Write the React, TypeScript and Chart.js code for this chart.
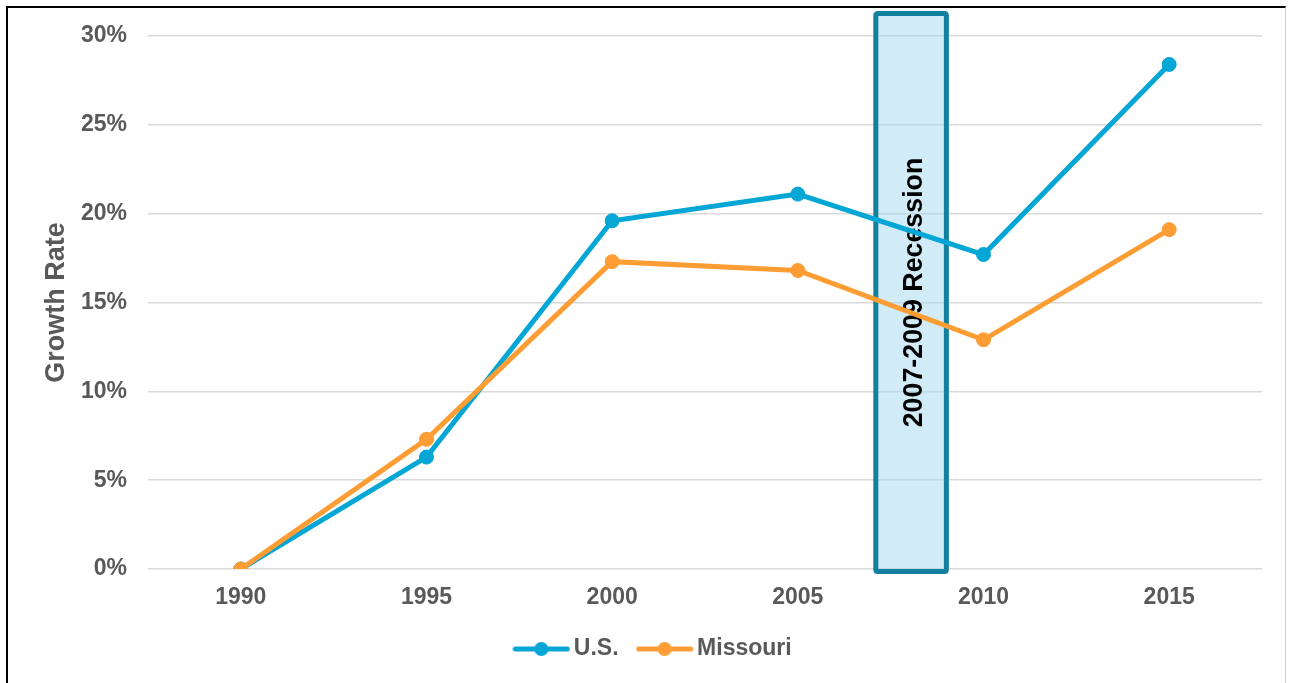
import React, { useEffect, useRef } from "react";
import { Chart, registerables } from "chart.js";

Chart.register(...registerables);

const years = ["1990", "1995", "2000", "2005", "2010", "2015"];
const usValues = [0, 6.3, 19.6, 21.1, 17.7, 28.4];
const missouriValues = [0, 7.3, 17.3, 16.8, 12.9, 19.1];
const seriesNames = ["U.S.", "Missouri"];
const recessionLabel = "2007-2009 Recession";
const recessionStart = 2007.1;
const recessionEnd = 2009.0;
const recessionTop = 31.27;
const recessionBottom = -0.14;

const FONT = "'Liberation Sans', Arial, sans-serif";
const US_COLOR = "#04a6d5";
const MO_COLOR = "#fd9d33";
const TEXT_GREY = "#595959";

function makeLegendMarker(color: string) {
  const c = document.createElement("canvas");
  c.width = 58;
  c.height = 16;
  const ctx = c.getContext("2d")!;
  ctx.strokeStyle = color;
  ctx.lineWidth = 5;
  ctx.lineCap = "round";
  ctx.beginPath();
  ctx.moveTo(3, 8);
  ctx.lineTo(55, 8);
  ctx.stroke();
  ctx.fillStyle = color;
  ctx.beginPath();
  ctx.arc(29, 8, 7, 0, Math.PI * 2);
  ctx.fill();
  return c;
}

const recessionPlugin = {
  id: "recessionBand",
  beforeDatasetsDraw(chart: any) {
    const x = chart.scales.x;
    const y = chart.scales.y;
    const firstYear = Number(years[0]);
    const step = Number(years[1]) - Number(years[0]);
    const x0 = x.getPixelForValue((recessionStart - firstYear) / step);
    const x1 = x.getPixelForValue((recessionEnd - firstYear) / step);
    const y0 = y.getPixelForValue(recessionTop);
    const y1 = y.getPixelForValue(recessionBottom);
    const ctx = chart.ctx;
    ctx.save();
    ctx.beginPath();
    const r = 2;
    const w = x1 - x0;
    const h = y1 - y0;
    ctx.moveTo(x0 + r, y0);
    ctx.lineTo(x0 + w - r, y0);
    ctx.quadraticCurveTo(x0 + w, y0, x0 + w, y0 + r);
    ctx.lineTo(x0 + w, y0 + h - r);
    ctx.quadraticCurveTo(x0 + w, y0 + h, x0 + w - r, y0 + h);
    ctx.lineTo(x0 + r, y0 + h);
    ctx.quadraticCurveTo(x0, y0 + h, x0, y0 + h - r);
    ctx.lineTo(x0, y0 + r);
    ctx.quadraticCurveTo(x0, y0, x0 + r, y0);
    ctx.closePath();
    ctx.fillStyle = "rgba(164, 218, 240, 0.5)";
    ctx.fill();
    ctx.lineWidth = 5;
    ctx.strokeStyle = "#13809d";
    ctx.stroke();
    ctx.translate((x0 + x1) / 2 + 4, (y0 + y1) / 2);
    ctx.rotate(-Math.PI / 2);
    ctx.fillStyle = "#000000";
    ctx.font = `bold 26.8px ${FONT}`;
    ctx.textAlign = "center";
    ctx.textBaseline = "middle";
    ctx.fillText(recessionLabel, 0, 0);
    ctx.restore();
  },
};

export default function App() {
  const ref = useRef<HTMLCanvasElement>(null);
  useEffect(() => {
    if (!ref.current) return;
    const markers = [makeLegendMarker(US_COLOR), makeLegendMarker(MO_COLOR)];
    const chart = new Chart(ref.current, {
      type: "line",
      data: {
        labels: years,
        datasets: [
          {
            label: seriesNames[0],
            data: usValues,
            order: 1,
            borderColor: US_COLOR,
            backgroundColor: US_COLOR,
            borderWidth: 5,
            pointRadius: 7,
            pointBorderWidth: 1,
            pointBackgroundColor: US_COLOR,
            pointBorderColor: US_COLOR,
            tension: 0,
          },
          {
            label: seriesNames[1],
            data: missouriValues,
            order: 0,
            borderColor: MO_COLOR,
            backgroundColor: MO_COLOR,
            borderWidth: 5,
            pointRadius: 7,
            pointBorderWidth: 1,
            pointBackgroundColor: MO_COLOR,
            pointBorderColor: MO_COLOR,
            tension: 0,
          },
        ],
      },
      options: {
        responsive: false,
        animation: false,
        layout: { padding: { left: 42, right: 23, top: 28, bottom: 12.5 } },
        plugins: {
          tooltip: { enabled: false },
          legend: {
            position: "bottom",
            labels: {
              usePointStyle: true,
              pointStyleWidth: 42,
              padding: 25,
              color: TEXT_GREY,
              font: { family: FONT, size: 23, weight: "bold" },
              generateLabels: (c: any) =>
                c.data.datasets.map((ds: any, i: number) => ({
                  text: ds.label,
                  fillStyle: ds.borderColor,
                  strokeStyle: ds.borderColor,
                  lineWidth: 0,
                  pointStyle: markers[i],
                  datasetIndex: i,
                  hidden: false,
                  fontColor: TEXT_GREY,
                })),
            },
          },
        },
        scales: {
          x: {
            type: "category",
            offset: true,
            grid: { display: false, drawTicks: false },
            border: { display: false },
            ticks: {
              padding: 15,
              color: TEXT_GREY,
              font: { family: FONT, size: 23, weight: "bold" },
              maxRotation: 0,
            },
            afterFit: (s: any) => {
              s.height = 43.5;
            },
          },
          y: {
            min: 0,
            max: 30,
            grid: {
              color: "#d9d9d9",
              lineWidth: 1.5,
              drawTicks: true,
              tickLength: 21,
              tickColor: "rgba(0,0,0,0)",
            },
            border: { display: false },
            ticks: {
              stepSize: 5,
              padding: 0,
              color: TEXT_GREY,
              font: { family: FONT, size: 23, weight: "bold" },
              callback: (v: any) => `${v}%`,
            },
            title: {
              display: true,
              text: "Growth Rate",
              color: TEXT_GREY,
              font: { family: FONT, size: 27, weight: "bold", lineHeight: 0.45 },
              padding: { top: 0, bottom: 0 },
            },
            afterFit: (s: any) => {
              s.width = 98;
            },
          },
        },
      },
      plugins: [recessionPlugin],
    });
    return () => chart.destroy();
  }, []);

  return (
    <div
      style={{
        position: "fixed",
        left: 6,
        top: 6,
        width: 1277,
        height: 677,
        borderLeft: "2px solid #000",
        borderTop: "2px solid #000",
        borderRight: "1px solid #d0d0d0",
        background: "#fff",
        overflow: "hidden",
      }}
    >
      <canvas ref={ref} width={1277} height={675} style={{ display: "block" }} />
    </div>
  );
}
